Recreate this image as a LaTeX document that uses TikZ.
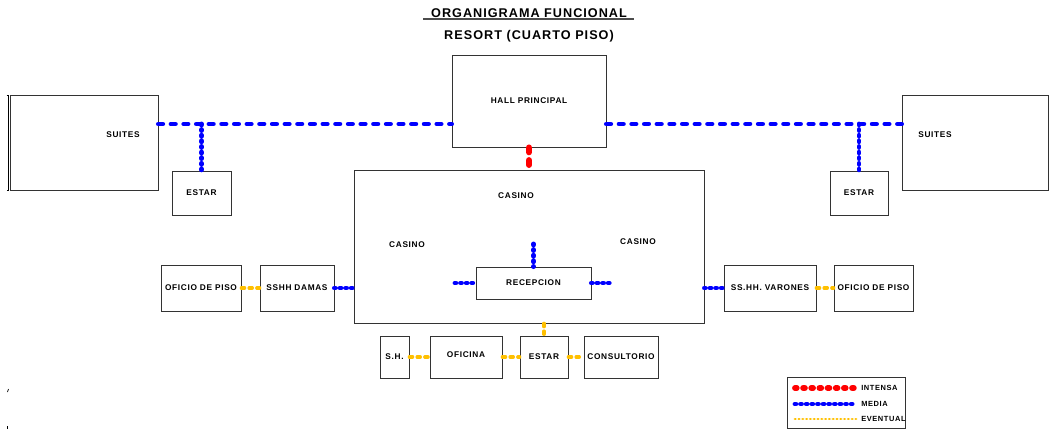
\documentclass[tikz,border=0pt]{standalone}
\usepackage{fontspec}
\setmainfont{Liberation Sans}
\newfontfamily\lblfont[LetterSpace=8]{Liberation Sans}
\usepackage{xcolor}
\usetikzlibrary{positioning}

\definecolor{intensa}{RGB}{255,0,0}
\definecolor{media}{RGB}{0,0,255}
\definecolor{eventual}{RGB}{255,192,0}

\begin{document}
\begin{tikzpicture}[
  x=0.025cm, y=-0.025cm,
  every node/.style={font=\lblfont\fontsize{5.9}{6.5}\selectfont\bfseries},
  box/.style={draw=black!80, line width=0.6pt, inner sep=0pt},
  txt/.style={inner sep=0pt},
  leg/.style={inner sep=0pt, anchor=west, font=\lblfont\fontsize{5.3}{6}\selectfont\bfseries},
  medialine/.style={draw=media, line width=3.5pt, line cap=round, dash pattern=on 3pt off 6pt},
  mediadot/.style={draw=media, line width=3.5pt, line cap=round, dash pattern=on 0.6pt off 3.4pt},
  intensaline/.style={draw=intensa, line width=4.2pt, line cap=round, dash pattern=on 3.5pt off 5.5pt},
  intensadot/.style={draw=intensa, line width=4.2pt, line cap=round, dash pattern=on 1.2pt off 4.6pt},
  eventualline/.style={draw=eventual, line width=2.5pt, line cap=round, dash pattern=on 2.2pt off 3.3pt},
  eventualdot/.style={draw=eventual, line width=2pt, line cap=round, dash pattern=on 0.3pt off 2.4pt}
]
  \useasboundingbox (0,0) rectangle (1050,432);

  % titulo
  \node[txt, font=\lblfont\fontsize{9}{10}\selectfont\bfseries] (titulo) at (529,13) {ORGANIGRAMA FUNCIONAL};
  \node[txt, font=\lblfont\fontsize{9}{10}\selectfont\bfseries] (subtitulo) at (529,36) {RESORT (CUARTO PISO)};
  \draw[black!70, line width=0.8pt] (423,19) -- (634,19);

  % ambientes
  \node[box, minimum width=3.7cm, minimum height=2.375cm] (suitesL) at (84,142.5) {};
  \node[txt] (suitesLt) at (123,135) {SUITES};
  \node[box, minimum width=1.475cm, minimum height=1.1cm] (estarL) at (201.5,193) {ESTAR};
  \node[box, minimum width=3.85cm, minimum height=2.3cm] (hall) at (529,101) {HALL PRINCIPAL};
  \node[box, minimum width=1.45cm, minimum height=1.1cm] (estarR) at (859,193) {ESTAR};
  \node[box, minimum width=3.65cm, minimum height=2.375cm] (suitesR) at (975,142.5) {};
  \node[txt] (suitesRt) at (935,135) {SUITES};

  \node[box, minimum width=8.75cm, minimum height=3.825cm] (casino) at (529,246.5) {};
  \node[txt] (casinoA) at (516,196) {CASINO};
  \node[txt] (casinoB) at (407,245) {CASINO};
  \node[txt] (casinoC) at (638,242) {CASINO};
  \node[box, minimum width=2.875cm, minimum height=0.8cm] (recep) at (533.5,283) {RECEPCION};

  \node[box, minimum width=2.0cm, minimum height=1.15cm] (oficioL) at (201,288) {OFICIO DE PISO};
  \node[box, minimum width=1.85cm, minimum height=1.15cm] (damas) at (297,288) {SSHH DAMAS};
  \node[box, minimum width=2.3cm, minimum height=1.15cm] (varones) at (770,288) {SS.HH. VARONES};
  \node[box, minimum width=1.975cm, minimum height=1.15cm] (oficioR) at (873.5,288) {OFICIO DE PISO};

  \node[box, minimum width=0.725cm, minimum height=1.05cm] (sh) at (394.5,357) {S.H.};
  \node[box, minimum width=1.8cm, minimum height=1.05cm, text depth=4pt] (oficina) at (466,357) {OFICINA};
  \node[box, minimum width=1.2cm, minimum height=1.05cm] (estarB) at (544,357) {ESTAR};
  \node[box, minimum width=1.85cm, minimum height=1.05cm] (consul) at (621,357) {CONSULTORIO};

  % enlaces media
  \coordinate (jL) at (201.5,124);
  \coordinate (jR) at (859,124);
  \draw[medialine] (suitesL.east |- jL) -- (hall.west |- jL);
  \draw[medialine] (hall.east |- jR) -- (suitesR.west |- jR);
  \draw[mediadot] (jL) -- (estarL.north);
  \draw[mediadot] (jR) -- (estarR.north);
  \draw[mediadot] (damas.east) -- (casino.west |- damas.east);
  \draw[mediadot] (casino.east |- varones.west) -- (varones.west);
  \coordinate (rW) at (455,283);
  \coordinate (rE) at (612,283);
  \coordinate (rN) at (533.5,244);
  \draw[mediadot] (rW) -- (recep.west);
  \draw[mediadot] (recep.east) -- (rE);
  \draw[mediadot] (rN) -- (recep.north);

  % enlace intensa
  \draw[intensaline] (hall.south) -- (casino.north);

  % enlaces eventual
  \draw[eventualline] (oficioL.east) -- (damas.west);
  \draw[eventualline] (varones.east) -- (oficioR.west);
  \draw[eventualline] (sh.east) -- (oficina.west);
  \draw[eventualline] (oficina.east) -- (estarB.west);
  \draw[eventualline] (estarB.east) -- (consul.west);
  \draw[eventualline] (estarB.north |- casino.south) -- (estarB.north);

  % leyenda
  \node[box, minimum width=2.95cm, minimum height=1.275cm] (leyenda) at (846,402.5) {};
  \coordinate (l1) at (795,388);
  \coordinate (l2) at (795,404);
  \coordinate (l3) at (795,419);
  \node[leg] (lIntensa) at (861,388) {INTENSA};
  \node[leg] (lMedia) at (861,404) {MEDIA};
  \node[leg] (lEventual) at (861,419) {EVENTUAL};
  \draw[intensadot] (l1) -- (lIntensa.west -| 856,0);
  \draw[mediadot] (l2) -- (lMedia.west -| 856,0);
  \draw[eventualdot] (l3) -- (lEventual.west -| 856,0);

  % trazos sueltos
  \draw[black, line width=0.5pt] (6.5,95) -- (8.5,95) -- (8.5,190) -- (6.5,190);
  \draw[black, line width=0.5pt] (7.5,392) -- (8.5,389);
  \draw[black, line width=0.5pt] (7,426) -- (7,429);
\end{tikzpicture}
\end{document}
